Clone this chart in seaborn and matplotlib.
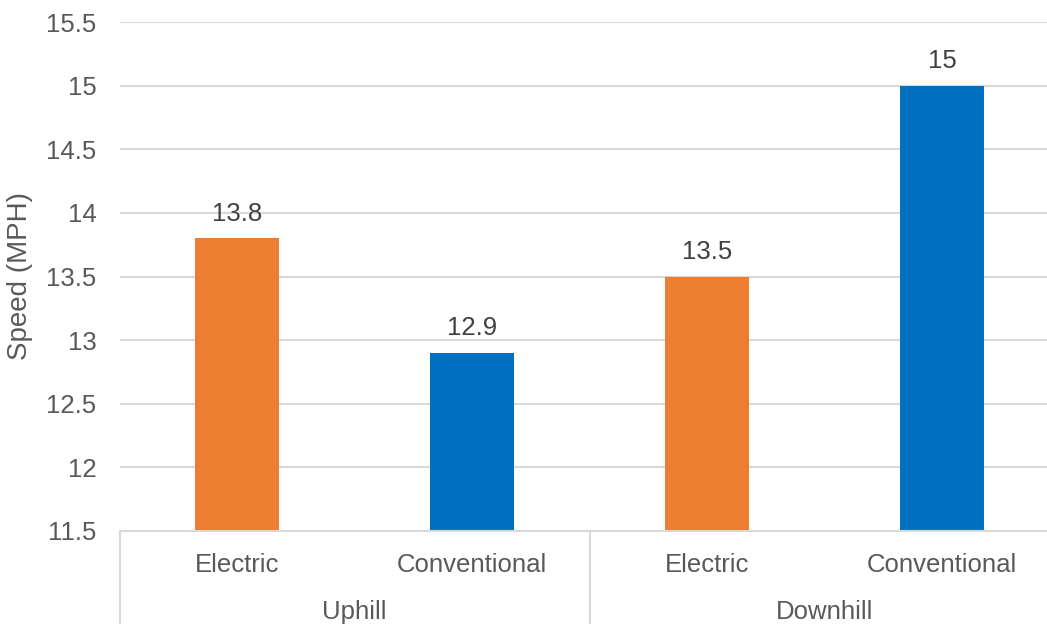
import matplotlib
matplotlib.use("Agg")
import matplotlib.pyplot as plt
import matplotlib.transforms as mtransforms
import seaborn as sns
import pandas as pd

# chart data
groups = ["Uphill", "Uphill", "Downhill", "Downhill"]
vehicle_types = ["Electric", "Conventional", "Electric", "Conventional"]
speeds = [13.8, 12.9, 13.5, 15.0]
group_names = ["Uphill", "Downhill"]
type_colors = {"Electric": "#ED7D31", "Conventional": "#0070C0"}

df = pd.DataFrame({
    "key": [g + " " + t for g, t in zip(groups, vehicle_types)],
    "group": groups,
    "type": vehicle_types,
    "speed": speeds,
})

sns.set_style("white")
plt.rcParams["font.family"] = ["Liberation Sans", "DejaVu Sans"]

GRID = "#D9D9D9"
TXT = "#595959"

fig = plt.figure(figsize=(10.47, 6.24), dpi=100)
ax = fig.add_axes([119.5 / 1047, 1 - 531 / 624, 940 / 1047, 509 / 624])

sns.barplot(data=df, x="key", y="speed", hue="type", palette=type_colors,
            dodge=False, width=0.357, legend=False, ax=ax, saturation=1,
            linewidth=0)

ax.set_ylim(11.5, 15.5)
ax.set_yticks([11.5, 12, 12.5, 13, 13.5, 14, 14.5, 15, 15.5])
ax.set_yticklabels(["11.5", "12", "12.5", "13", "13.5", "14", "14.5", "15", "15.5"])
ax.set_xlim(-0.5, 3.5)
ax.yaxis.grid(True, color=GRID, linewidth=1.5)
ax.set_axisbelow(True)
for s in ["top", "right", "left"]:
    ax.spines[s].set_visible(False)
ax.spines["bottom"].set_color(GRID)
ax.spines["bottom"].set_linewidth(1.5)

ax.tick_params(axis="y", length=0, pad=16.5, labelsize=18.5, labelcolor=TXT)
ax.tick_params(axis="x", length=0, pad=15.5, labelsize=18.5, labelcolor=TXT)
ax.set_xticks(range(len(vehicle_types)))
ax.set_xticklabels(vehicle_types)
ax.set_xlabel("")
ax.set_ylabel("Speed (MPH)", fontsize=20, color=TXT)
ax.yaxis.set_label_coords(-0.092, 0.5)

for c in ax.containers:
    ax.bar_label(c, fmt="%g", padding=9, fontsize=18.5, color="#404040")

# multi-level category axis
trans = mtransforms.blended_transform_factory(ax.transData, ax.transAxes)
for xb in [-0.5, 1.5]:
    ax.plot([xb, xb], [0, -0.25], transform=trans, color=GRID,
            linewidth=1.5, clip_on=False)
for i, g in enumerate(group_names):
    ax.text(2 * i + 0.5, -0.16, g, transform=trans, ha="center", va="center",
            fontsize=18.5, color=TXT)

fig.savefig("out.png", dpi=100)
